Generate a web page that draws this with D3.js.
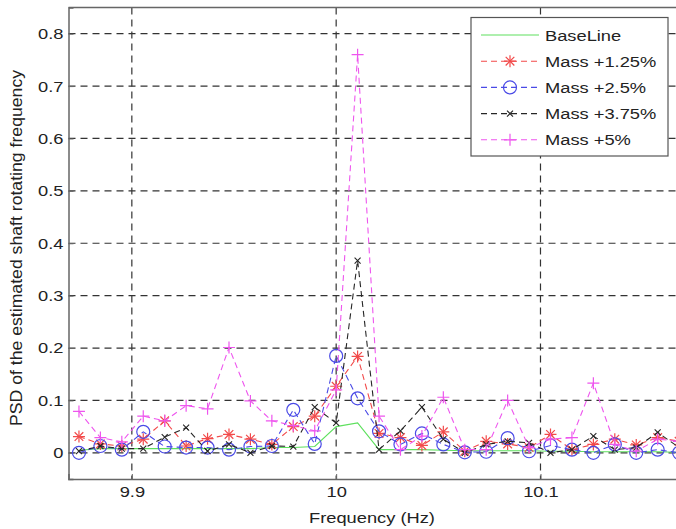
<!DOCTYPE html>
<html><head><meta charset="utf-8">
<script src="https://cdn.jsdelivr.net/npm/d3@7"></script>
<style>body{margin:0;background:#fff}svg{display:block}text{font-family:"Liberation Sans",Arial,sans-serif}</style>
</head><body>
<svg id="chart" width="676" height="529"></svg>
<script>
const freqIndex = d3.range(29);
const freqStep = 0.01049;
const freqs = freqIndex.map(i => 10 + (i - 12) * freqStep);
const baseline = [0.005,0.008,0.008,0.008,0.008,0.008,0.008,0.008,0.008,0.01,0.01,0.012,0.05,0.057,0.006,0.006,0.006,0.005,0.004,0.004,0.004,0.004,0.003,0.003,0.002,0.002,0.002,0.002,0.001];
const mass125 = [0.031,0.017,0.013,0.026,0.061,0.013,0.027,0.035,0.026,0.016,0.05,0.07,0.127,0.184,0.037,0.029,0.014,0.04,0.003,0.022,0.017,0.01,0.035,0.006,0.016,0.026,0.015,0.029,0.022];
const mass25 = [0.0,0.013,0.006,0.04,0.012,0.01,0.01,0.006,0.012,0.013,0.082,0.017,0.185,0.104,0.041,0.016,0.037,0.016,0.001,0.002,0.028,0.003,0.014,0.006,0.0,0.016,0.0,0.006,0.0];
const mass375 = [0.003,0.013,0.008,0.008,0.03,0.048,0.003,0.016,0.0,0.013,0.012,0.087,0.057,0.367,0.006,0.042,0.087,0.026,0.0,0.016,0.022,0.019,0.0,0.006,0.032,0.006,0.01,0.039,0.01];
const mass5 = [0.079,0.029,0.021,0.07,0.061,0.09,0.084,0.201,0.099,0.061,0.052,0.042,0.12,0.76,0.07,0.006,0.032,0.106,0.006,0.006,0.1,0.01,0.026,0.029,0.133,0.016,0.003,0.026,0.022];
const yTicks = [0,0.1,0.2,0.3,0.4,0.5,0.6,0.7,0.8];
const xTicks = [9.9,10,10.1];
const seriesNames = ["BaseLine","Mass +1.25%","Mass +2.5%","Mass +3.75%","Mass +5%"];

const series = [
  {name:seriesNames[0], values:baseline, color:"#5ee05e", dash:null, marker:"none"},
  {name:seriesNames[1], values:mass125, color:"#f24a4a", dash:"6,4", marker:"star"},
  {name:seriesNames[2], values:mass25, color:"#4a4ae6", dash:"6,4", marker:"circle"},
  {name:seriesNames[3], values:mass375, color:"#262626", dash:"6,4", marker:"x"},
  {name:seriesNames[4], values:mass5, color:"#ee55ee", dash:"6,4", marker:"plus"}
];

const FS = 15.5, SX = 1.18;
const svg = d3.select("#chart");
const L = 68.5, T = 7.5, R = 678, B = 479;
const x = d3.scaleLinear().domain([9.869, 10.1673]).range([L, R]);
const y = d3.scaleLinear().domain([-0.05, 0.85]).range([B, T]);

svg.append("defs").append("clipPath").attr("id","clip")
  .append("rect").attr("x",L).attr("y",T).attr("width",R-L).attr("height",B-T);

// grid
const grid = svg.append("g");
grid.selectAll(".gy").data(yTicks).join("line")
  .attr("x1",L).attr("x2",R).attr("y1",d=>y(d)).attr("y2",d=>y(d))
  .attr("stroke","#333").attr("stroke-width",1.2).attr("stroke-dasharray","7,5");
grid.selectAll(".gx").data(xTicks).join("line")
  .attr("y1",T).attr("y2",B).attr("x1",d=>x(d)).attr("x2",d=>x(d))
  .attr("stroke","#333").attr("stroke-width",1.2).attr("stroke-dasharray","7,5");

// axes
const xAxis = d3.axisBottom(x).tickValues(xTicks).tickSize(-5).tickPadding(7).tickFormat(d3.format("~g"));
const yAxis = d3.axisLeft(y).tickValues(yTicks).tickSize(-5).tickPadding(5).tickFormat(d3.format("~g"));
const gx = svg.append("g").attr("transform",`translate(0,${B})`).call(xAxis);
const gy = svg.append("g").attr("transform",`translate(${L},0)`).call(yAxis);
[gx,gy].forEach(g=>{
  g.select(".domain").attr("stroke","#666").attr("stroke-width",1.5);
  g.selectAll(".tick line").attr("stroke","#666");
  g.selectAll(".tick text").attr("font-size",FS).attr("fill","#222").attr("font-family","'Liberation Sans',Arial,sans-serif");
});
gx.selectAll(".tick text").each(function(){
  const t=d3.select(this); const yy=+t.attr("y");
  t.attr("y",0).attr("transform",`translate(0,${yy}) scale(${SX},1)`);
});
gy.selectAll(".tick text").each(function(){
  const t=d3.select(this); const xx=+t.attr("x");
  t.attr("x",0).attr("transform",`translate(${xx},0) scale(${SX},1)`);
});
svg.append("line").attr("x1",L).attr("x2",R).attr("y1",T).attr("y2",T).attr("stroke","#666").attr("stroke-width",1.5);

// data
const plot = svg.append("g").attr("clip-path","url(#clip)");
const line = d3.line().x((d,i)=>x(freqs[i])).y(d=>y(d));

function drawMarker(g, type, color, cx, cy){
  const s = 6;
  if(type==="circle"){
    g.append("circle").attr("cx",cx).attr("cy",cy).attr("r",6.5).attr("fill","none").attr("stroke",color).attr("stroke-width",1.2);
  } else if(type==="plus"||type==="star"){
    g.append("path").attr("d",`M${cx-s},${cy}H${cx+s}M${cx},${cy-s}V${cy+s}`).attr("stroke",color).attr("stroke-width",1.2);
    if(type==="star"){
      const k=s*0.72;
      g.append("path").attr("d",`M${cx-k},${cy-k}L${cx+k},${cy+k}M${cx-k},${cy+k}L${cx+k},${cy-k}`).attr("stroke",color).attr("stroke-width",1.2);
    }
  } else if(type==="x"){
    const k=3;
    g.append("path").attr("d",`M${cx-k},${cy-k}L${cx+k},${cy+k}M${cx-k},${cy+k}L${cx+k},${cy-k}`).attr("stroke",color).attr("stroke-width",1.1);
  }
}

series.forEach(s=>{
  plot.append("path").datum(s.values).attr("d",line).attr("fill","none")
    .attr("stroke",s.color).attr("stroke-width",1.1).attr("stroke-dasharray",s.dash);
  if(s.marker!=="none"){
    const mg = plot.append("g");
    s.values.forEach((v,i)=>drawMarker(mg,s.marker,s.color,x(freqs[i]),y(v)));
  }
});

// labels
svg.append("text").attr("transform",`translate(372,523) scale(${SX},1)`).attr("text-anchor","middle").attr("font-size",FS).attr("fill","#222").text("Frequency (Hz)");
svg.append("text").attr("transform",`translate(22,248) rotate(-90) scale(1.07,1)`).attr("text-anchor","middle").attr("font-size",16.5).attr("fill","#222").text("PSD of the estimated shaft rotating frequency");

// legend
const lg = svg.append("g");
lg.append("rect").attr("x",471).attr("y",17.5).attr("width",197).attr("height",138.5).attr("fill","#fff").attr("stroke","#555").attr("stroke-width",1.2);
series.forEach((s,i)=>{
  const yy = 35 + i*26.2;
  lg.append("line").attr("x1",481).attr("x2",539).attr("y1",yy).attr("y2",yy).attr("stroke",s.color).attr("stroke-width",1.1).attr("stroke-dasharray",s.dash);
  drawMarker(lg,s.marker,s.color,510,yy);
  lg.append("text").attr("transform",`translate(545,${yy+5.5}) scale(${SX},1)`).attr("font-size",FS).attr("fill","#222").text(s.name);
});
</script>
</body></html>
